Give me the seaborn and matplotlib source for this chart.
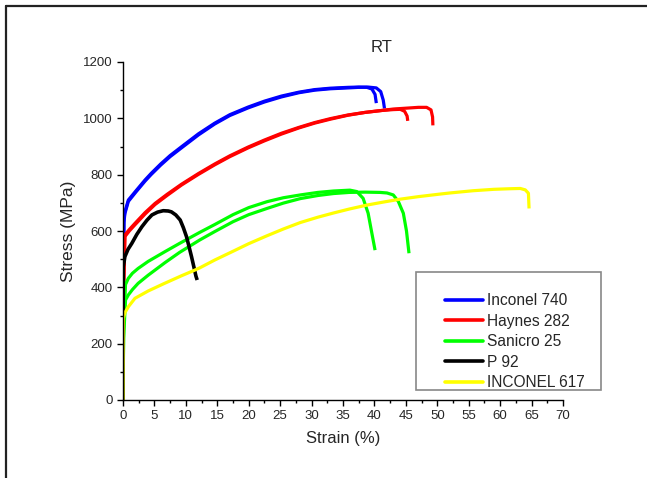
import numpy as np
import pandas as pd
import matplotlib
matplotlib.use("Agg")
import matplotlib.pyplot as plt
from matplotlib.lines import Line2D
from matplotlib.patches import Rectangle
from matplotlib.ticker import MultipleLocator
import seaborn as sns

# ---- data ----
materials = ["Inconel 740", "Haynes 282", "Sanicro 25", "P 92", "INCONEL 617"]
colors = ["#0000FF", "#FF0000", "#00FF00", "#000000", "#FFFF00"]

in740_a_strain = [0, 0.05, 0.15, 0.3, 0.85, 2, 3.5, 4.5, 6, 7.5, 9.3, 12, 14.6, 17, 19.9, 22.5, 25.2, 28, 30.5, 33, 35.8, 37.5, 38.8, 39.6, 40.1, 40.3]
in740_a_stress = [0, 450, 640, 668, 710, 741, 781, 805, 838, 868, 899, 945, 983, 1013, 1040, 1061, 1079, 1093, 1102, 1107, 1110, 1111, 1110, 1104, 1085, 1054]
in740_b_strain = [0, 0.05, 0.15, 0.3, 0.85, 2, 3.5, 4.5, 6, 7.5, 9.3, 12, 14.6, 17, 19.9, 22.5, 25.2, 28, 30.5, 33, 35.8, 37.5, 39, 40.3, 41.0, 41.4, 41.6]
in740_b_stress = [0, 440, 630, 662, 705, 737, 777, 801, 834, 864, 895, 941, 980, 1010, 1037, 1058, 1076, 1091, 1100, 1105, 1108, 1110, 1111, 1108, 1095, 1065, 1035]

h282_a_strain = [0, 0.1, 0.3, 1, 1.9, 3.5, 5.1, 7, 9.3, 12, 14.6, 17, 19.9, 22.5, 25.2, 28, 30.5, 33, 35.8, 38.5, 41.2, 43, 44.1, 44.8, 45.2, 45.3]
h282_a_stress = [0, 400, 586, 605, 627, 665, 698, 730, 766, 804, 838, 867, 898, 923, 947, 968, 985, 999, 1012, 1021, 1028, 1031, 1032, 1025, 1008, 991]
h282_b_strain = [0, 0.1, 0.3, 1, 1.9, 3.5, 5.1, 7, 9.3, 12, 14.6, 17, 19.9, 22.5, 25.2, 28, 30.5, 33, 35.8, 38.5, 41.2, 43, 45, 47, 48.3, 49, 49.25, 49.3]
h282_b_stress = [0, 390, 580, 600, 622, 660, 694, 726, 763, 801, 835, 864, 895, 920, 944, 966, 983, 997, 1011, 1021, 1028, 1033, 1036, 1039, 1039, 1030, 1005, 975]

s25_a_strain = [0, 0.1, 0.4, 0.85, 1.5, 2.4, 4, 6.7, 9, 12.2, 14.6, 17.5, 20, 22.9, 25.5, 28.2, 31, 33.5, 36.1, 37.2, 38.2, 39, 39.5, 40.1]
s25_a_stress = [0, 250, 410, 432, 450, 467, 492, 527, 556, 595, 623, 658, 683, 704, 718, 728, 737, 742, 745, 740, 716, 663, 603, 532]
s25_b_strain = [0, 0.1, 0.4, 0.85, 1.5, 2.4, 4, 6.7, 9, 12.2, 14.6, 17.5, 20, 22.9, 25.5, 28.2, 31, 33.5, 36, 38.5, 40.9, 42, 43, 43.8, 44.6, 45.1, 45.5]
s25_b_stress = [0, 220, 355, 373, 392, 414, 443, 488, 524, 568, 598, 633, 658, 680, 699, 715, 726, 733, 737, 738, 737, 735, 728, 705, 663, 600, 521]

p92_strain = [0, 0.02, 0.05, 0.3, 0.8, 1.4, 2.2, 3.0, 3.8, 4.6, 5.5, 6.4, 7.2, 7.7, 8.4, 9.1, 9.6, 10.1, 10.5, 10.9, 11.3, 11.6, 11.8]
p92_stress = [0, 300, 473, 509, 535, 556, 588, 615, 638, 657, 667, 672, 671, 668, 657, 639, 612, 580, 545, 509, 470, 440, 426]

in617_strain = [0, 0.03, 0.05, 0.3, 0.85, 1.9, 4, 6.5, 9.3, 11.3, 12.2, 14.6, 17.5, 20, 22.9, 25.5, 28.2, 31, 33.5, 36, 38.8, 41.5, 44.1, 47, 50.4, 52, 55.7, 59, 61.5, 63.2, 64, 64.5, 64.6]
in617_stress = [0, 250, 290, 310, 331, 361, 387, 413, 441, 460, 469, 497, 528, 555, 583, 607, 630, 649, 664, 678, 692, 703, 713, 722, 731, 735, 743, 748, 750, 751, 746, 734, 680]

x_ticks = list(range(0, 71, 5))
y_ticks = list(range(0, 1201, 200))

curves = [
    ("Inconel 740", "a", in740_a_strain, in740_a_stress),
    ("Inconel 740", "b", in740_b_strain, in740_b_stress),
    ("Haynes 282", "a", h282_a_strain, h282_a_stress),
    ("Haynes 282", "b", h282_b_strain, h282_b_stress),
    ("Sanicro 25", "a", s25_a_strain, s25_a_stress),
    ("Sanicro 25", "b", s25_b_strain, s25_b_stress),
    ("P 92", "a", p92_strain, p92_stress),
    ("INCONEL 617", "a", in617_strain, in617_stress),
]
rows = []
for mat, run, xs, ys in curves:
    for i, (x, y) in enumerate(zip(xs, ys)):
        rows.append({"material": mat, "test": mat + run, "order": i, "strain": x, "stress": y})
df = pd.DataFrame(rows)

# ---- plotting ----
sns.set_theme(style="ticks")
plt.rcParams["font.family"] = ["Liberation Sans", "DejaVu Sans"]

W, H = 647, 478
fig = plt.figure(figsize=(W / 100, H / 100), dpi=100)
ax = fig.add_axes([123 / W, 1 - 400 / H, 440 / W, 338 / H])

palette = dict(zip(materials, colors))
for mat in materials:
    sub = df[df["material"] == mat]
    sns.lineplot(data=sub, x="strain", y="stress", units="test", estimator=None,
                 sort=False, color=palette[mat], lw=2.6 if mat == "P 92" else 2.3,
                 ax=ax, legend=False, solid_capstyle="butt", solid_joinstyle="round")

ax.set_xlim(0, 70)
ax.set_ylim(0, 1200)
ax.set_xticks(x_ticks)
ax.set_yticks(y_ticks)
ax.xaxis.set_minor_locator(MultipleLocator(2.5))
ax.yaxis.set_minor_locator(MultipleLocator(100))
ax.tick_params(which="major", direction="out", length=4.5, width=1, color="black",
               labelsize=9.5, pad=3)
ax.tick_params(which="minor", direction="out", length=2.5, width=1, color="black")
for s in ["top", "right"]:
    ax.spines[s].set_visible(False)
for s in ["left", "bottom"]:
    ax.spines[s].set_linewidth(1)
    ax.spines[s].set_color("black")
ax.set_xlabel("Strain (%)", fontsize=12, labelpad=6)
ax.set_ylabel("Stress (MPa)", fontsize=12.5, labelpad=5)

fig.text(382 / W, 1 - 48 / H, "RT", ha="center", va="center", fontsize=12)

# legend frame and entries
fig.patches.append(Rectangle((416 / W, 1 - 390 / H), 185 / W, 118 / H,
                             transform=fig.transFigure, fill=False,
                             edgecolor="#888888", lw=1.2))
handles = [Line2D([], [], color=c, lw=2.6) for c in colors]
fig.legend(handles, materials, loc="upper left",
           bbox_to_anchor=(445 / W, 1 - 293 / H), frameon=False,
           fontsize=11.2, handlelength=2.45, handletextpad=0.22,
           labelspacing=0.36, borderpad=0, borderaxespad=0)

# figure border (top and left)
fig.add_artist(Line2D([6 / W, 1], [1 - 6 / H, 1 - 6 / H], transform=fig.transFigure,
                      color="#222222", lw=1.6))
fig.add_artist(Line2D([6 / W, 6 / W], [0, 1 - 6 / H], transform=fig.transFigure,
                      color="#222222", lw=1.6))

fig.savefig("out.png", dpi=100)
